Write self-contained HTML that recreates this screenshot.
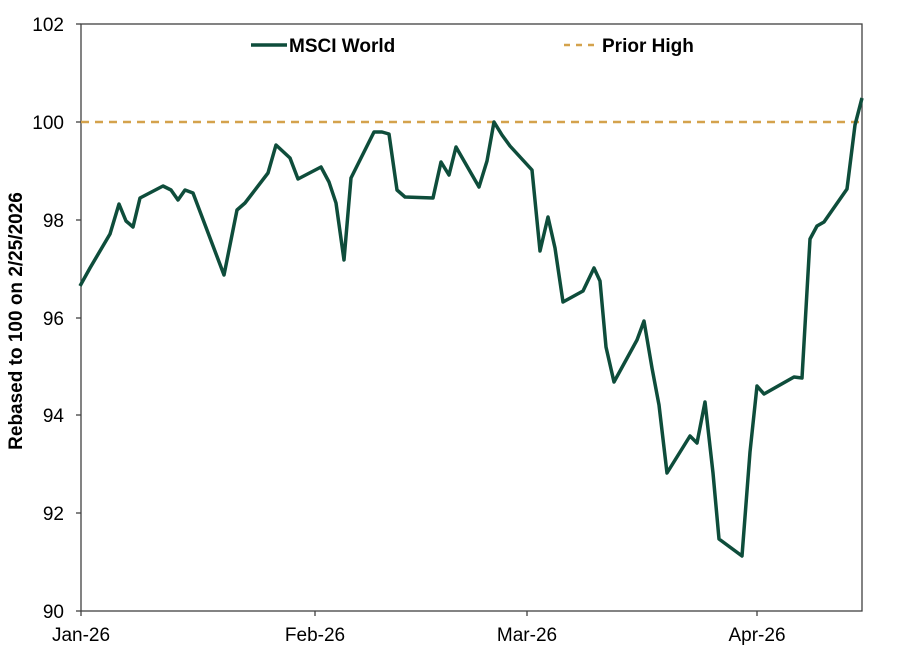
<!DOCTYPE html>
<html><head><meta charset="utf-8"><style>
html,body{margin:0;padding:0;background:#fff;}
svg{display:block;font-family:"Liberation Sans",Arial,sans-serif;}
</style></head><body>
<svg width="900" height="654" viewBox="0 0 900 654">
<rect x="81" y="24" width="781" height="587" fill="none" stroke="#404040" stroke-width="1.3"/>
<g stroke="#404040" stroke-width="1.3">
<line x1="76" y1="24" x2="81" y2="24"/><line x1="76" y1="122" x2="81" y2="122"/><line x1="76" y1="220" x2="81" y2="220"/><line x1="76" y1="318" x2="81" y2="318"/><line x1="76" y1="415" x2="81" y2="415"/><line x1="76" y1="513" x2="81" y2="513"/><line x1="76" y1="611" x2="81" y2="611"/>
<line x1="81" y1="611" x2="81" y2="616"/><line x1="315" y1="611" x2="315" y2="616"/><line x1="527" y1="611" x2="527" y2="616"/><line x1="757" y1="611" x2="757" y2="616"/>
</g>
<g font-size="19" fill="#000" text-anchor="end">
<text x="64" y="31">102</text><text x="64" y="129">100</text><text x="64" y="227">98</text><text x="64" y="325">96</text><text x="64" y="422">94</text><text x="64" y="520">92</text><text x="64" y="618">90</text>
</g>
<g font-size="19" fill="#000" text-anchor="middle">
<text x="81" y="641">Jan-26</text><text x="315" y="641">Feb-26</text><text x="527" y="641">Mar-26</text><text x="757" y="641">Apr-26</text>
</g>
<text transform="translate(22,321) rotate(-90)" font-size="19" font-weight="bold" text-anchor="middle">Rebased to 100 on 2/25/2026</text>
<line x1="81" y1="122" x2="862" y2="122" stroke="#d4a24c" stroke-width="2.5" stroke-dasharray="8,6"/>
<polyline fill="none" stroke="#0e4d3b" stroke-width="3.5" stroke-linejoin="round" points="80,286 90,268 110,234 119,204 126,221 133,227 140,198 163,186 171,190 178,200 185,190 193,193 224,275 237,210 245,203 268,173 276,145 290,158 298,179 321,167 329,182 336,203 344,260 351,178 374,132 382,132 389,134 397,190 405,197 433,198 441,162 449,175 456,147 479,187 487,161 494,122 502,135 510,146 532,170 540,251 548,217 555,248 563,302 583,291 594,268 600,281 606,347 614,382 637,340 644,321 652,368 659,405 667,473 690,436 697,443 705,402 713,473 719,539 742,556 750,452 757,386 764,394 794,377 802,378 810,239 817,226 824,222 847,189 855,125 862,98"/>
<line x1="251" y1="45" x2="287" y2="45" stroke="#0e4d3b" stroke-width="3.5"/>
<text x="289" y="52" font-size="19" font-weight="bold">MSCI World</text>
<line x1="564" y1="45" x2="600" y2="45" stroke="#d4a24c" stroke-width="2.5" stroke-dasharray="6,6"/>
<text x="602" y="52" font-size="19" font-weight="bold">Prior High</text>
</svg>
</body></html>
